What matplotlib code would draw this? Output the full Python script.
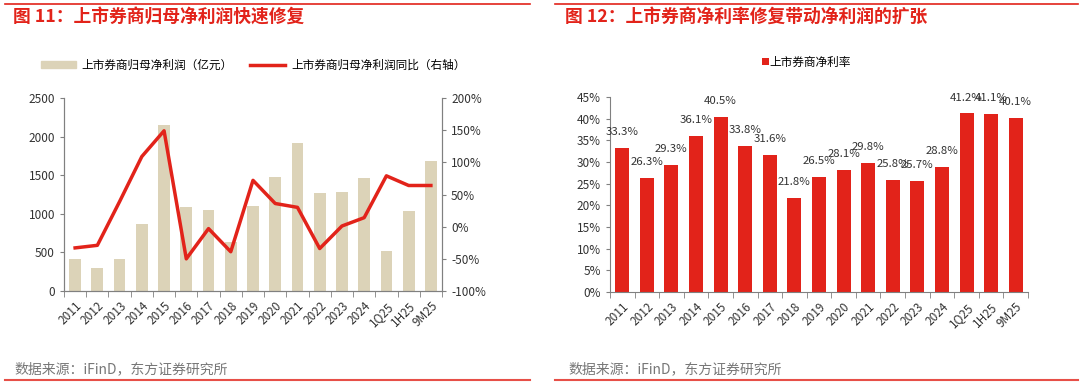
import numpy as np
import matplotlib.pyplot as plt
from matplotlib.lines import Line2D
from matplotlib.patches import Patch

plt.rcParams['font.family'] = ['Noto Sans CJK SC', 'DejaVu Sans']

periods = ['2011', '2012', '2013', '2014', '2015', '2016', '2017', '2018', '2019',
           '2020', '2021', '2022', '2023', '2024', '1Q25', '1H25', '9M25']
# 上市券商归母净利润（亿元）
profit = [420, 303, 416, 871, 2153, 1083, 1049, 641, 1100,
          1477, 1919, 1265, 1282, 1464, 520, 1035, 1685]
# 同比（%）
profit_yoy = [-33, -29, 39, 109, 149, -50, -3, -39, 72,
              36, 30, -34, 1, 14, 79, 64, 64]
# 上市券商净利率（%）
net_margin = [33.3, 26.3, 29.3, 36.1, 40.5, 33.8, 31.6, 21.8, 26.5,
              28.1, 29.8, 25.8, 25.7, 28.8, 41.2, 41.1, 40.1]

RED = '#e2231a'
BEIGE = '#dcd3b8'
GRAY = '#808080'
TXT = '#333333'
W, H = 1080, 385

fig = plt.figure(figsize=(W / 100, H / 100), dpi=100)


def box(x0, y0, x1, y1):
    return [x0 / W, 1 - y1 / H, (x1 - x0) / W, (y1 - y0) / H]


def style(ax):
    ax.spines['top'].set_visible(False)
    for s in ['left', 'bottom', 'right']:
        ax.spines[s].set_color(GRAY)
        ax.spines[s].set_linewidth(0.8)
    ax.tick_params(colors=GRAY, labelcolor=TXT, labelsize=8.5, length=3, width=0.8)
    ax.set_xlim(-0.5, len(periods) - 0.5)
    ax.set_xticks(np.arange(len(periods)))
    ax.set_xticklabels(periods, rotation=45, ha='right', rotation_mode='anchor')
    ax.set_xticks(np.arange(len(periods) + 1) - 0.5, minor=True)
    ax.tick_params(axis='x', which='major', length=0, pad=6)
    ax.tick_params(axis='x', which='minor', length=4, color=GRAY)


# headers / footers
for x0, x1 in [(5, 530), (555, 1078)]:
    fig.add_artist(Line2D([x0 / W, x1 / W], [1 - 4 / H] * 2, color=RED, lw=1.2))
    fig.add_artist(Line2D([x0 / W, x1 / W], [1 - 380 / H] * 2, color=RED, lw=1.5, alpha=0.8))
fig.text(13 / W, 1 - 17 / H, '图 11：上市券商归母净利润快速修复', color=RED, fontsize=12.8,
         fontweight='bold', va='center')
fig.text(565 / W, 1 - 17 / H, '图 12：上市券商净利率修复带动净利润的扩张', color=RED, fontsize=12.8,
         fontweight='bold', va='center')
fig.text(14 / W, 1 - 369 / H, '数据来源：iFinD，东方证券研究所', color='#777777', fontsize=10, va='center')
fig.text(568 / W, 1 - 369 / H, '数据来源：iFinD，东方证券研究所', color='#777777', fontsize=10, va='center')

# left chart
x = np.arange(len(periods))
ax1 = fig.add_axes(box(64, 98, 442, 291))
style(ax1)
ax1.bar(x, profit, width=0.53, color=BEIGE)
ax1.set_ylim(0, 2500)
ax1.set_yticks(range(0, 2501, 500))
ax2 = ax1.twinx()
ax2.plot(x, profit_yoy, color=RED, lw=2.5)
ax2.set_ylim(-100, 200)
ax2.set_yticks(range(-100, 201, 50))
ax2.set_yticklabels([f'{v}%' for v in range(-100, 201, 50)])
ax2.spines['top'].set_visible(False)
for s in ['left', 'bottom', 'right']:
    ax2.spines[s].set_color(GRAY)
    ax2.spines[s].set_linewidth(0.8)
ax2.tick_params(colors=GRAY, labelcolor=TXT, labelsize=8.5, length=3, width=0.8)
ax1.legend(handles=[Patch(color=BEIGE, label='上市券商归母净利润（亿元）'),
                    Line2D([], [], color=RED, lw=2.5, label='上市券商归母净利润同比（右轴）')],
           loc='center', bbox_to_anchor=(0.5, 1.17), ncol=2, frameon=False, fontsize=8.4,
           handlelength=3, handleheight=0.5, columnspacing=1.5, handletextpad=0.5)

# right chart
ax3 = fig.add_axes(box(610, 97, 1028, 292))
style(ax3)
ax3.spines['right'].set_visible(False)
ax3.bar(x, net_margin, width=0.57, color=RED, label='上市券商净利率')
ax3.set_ylim(0, 45)
ax3.set_yticks(range(0, 46, 5))
ax3.set_yticklabels([f'{v}%' for v in range(0, 46, 5)])
for xi, v in zip(x, net_margin):
    ax3.text(xi, v + 2.5, f'{v}%', ha='center', va='bottom', fontsize=8.2, color=TXT)
ax3.legend(loc='center', bbox_to_anchor=(0.47, 1.18), frameon=False, fontsize=8.4,
           handlelength=0.6, handleheight=0.6, handletextpad=0.1)

fig.savefig('out.png', dpi=100)
